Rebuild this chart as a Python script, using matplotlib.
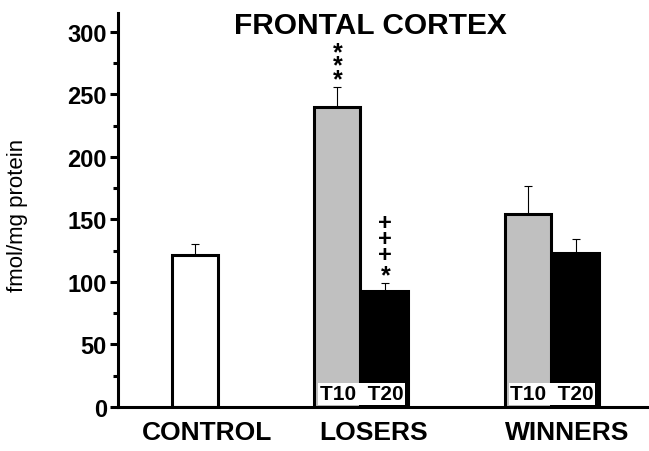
import matplotlib.pyplot as plt

plt.rcParams['font.family'] = ['Liberation Sans', 'DejaVu Sans']

groups = ['CONTROL', 'LOSERS', 'WINNERS']
control = [121.5]
control_err = [9]
t10 = [239.5, 154]
t10_err = [16, 23]
t20 = [93, 123.5]
t20_err = [6, 11]

control_x = [1.6]
t10_x = [4.57, 8.54]
t20_x = [5.57, 9.54]
label_x = [1.85, 5.33, 9.36]
bar_width = 0.96

fig = plt.figure(figsize=(6.49, 4.52), dpi=100)
ax = fig.add_axes([0.1818, 0.0973, 0.8182, 0.8717])

ax.bar(control_x, control, bar_width, color='white', edgecolor='black', linewidth=2.2, zorder=2)
ax.bar(t10_x, t10, bar_width, color='#c0c0c0', edgecolor='black', linewidth=2.2, zorder=2)
ax.bar(t20_x, t20, bar_width, color='black', edgecolor='black', linewidth=2.2, zorder=2)

ax.errorbar(control_x, control, yerr=[[0], control_err], fmt='none', ecolor='black', elinewidth=0.8, capsize=3.2, capthick=0.8, zorder=1)
ax.errorbar(t10_x, t10, yerr=[[0, 0], t10_err], fmt='none', ecolor='black', elinewidth=0.8, capsize=3.2, capthick=0.8, zorder=1)
ax.errorbar(t20_x, t20, yerr=[[0, 0], t20_err], fmt='none', ecolor='black', elinewidth=0.8, capsize=3.2, capthick=0.8, zorder=1)

# T10 / T20 labels at the bottom of each pair
for a, b in zip(t10_x, t20_x):
    ax.text((a + b) / 2, 3, 'T10  T20', ha='center', va='bottom', fontsize=15, fontweight='bold',
            bbox=dict(facecolor='white', edgecolor='none', pad=1.0), zorder=3)

# significance marks
top = t10[0] + t10_err[0]
ax.text(t10_x[0], top + 17.3, '*\n*\n*', ha='center', va='center', fontsize=18,
        fontweight='bold', linespacing=0.43)
top = t20[0] + t20_err[0]
ax.text(t20_x[0], top + 6.0, '*', ha='center', va='center', fontsize=18, fontweight='bold')
ax.text(t20_x[0], top + 35.8, '+\n+\n+', ha='center', va='center', fontsize=17,
        fontweight='bold', linespacing=0.6)

ax.set_xlim(0, 11.06)
ax.set_ylim(0, 315)
ax.set_yticks([0, 50, 100, 150, 200, 250, 300])
ax.set_yticks([25, 75, 125, 175, 225, 275], minor=True)
ax.set_xticks(label_x, groups)

for s in ['top', 'right']:
    ax.spines[s].set_visible(False)
ax.spines['left'].set_linewidth(2.2)
ax.spines['bottom'].set_linewidth(2.2)

ax.tick_params(axis='y', which='major', length=6, width=2.2, labelsize=17, pad=2)
ax.tick_params(axis='y', which='minor', length=3.5, width=2.2)
ax.tick_params(axis='x', length=0, labelsize=19, pad=9)
for lab in ax.get_yticklabels() + ax.get_xticklabels():
    lab.set_fontweight('bold')

ax.set_ylabel('fmol/mg protein', fontsize=16)
ax.yaxis.set_label_coords(-0.17, 0.49)

fig.text(0.57, 0.942, 'FRONTAL CORTEX', ha='center', va='center', fontsize=21.5, fontweight='bold')

fig.savefig('out.png', dpi=100)
